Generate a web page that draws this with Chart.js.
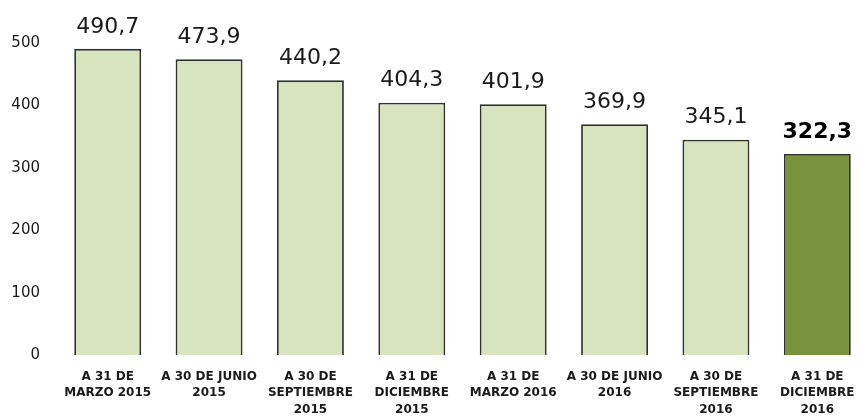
<!DOCTYPE html>
<html lang="es">
<head>
  <meta charset="UTF-8" />
  <title>Evolución</title>
  <script src="https://cdn.jsdelivr.net/npm/chart.js"></script>
  <style>
    html, body { margin: 0; padding: 0; background: #fff; overflow: hidden; }
    #wrap { width: 868px; height: 416px; }
  </style>
</head>
<body>
  <div id="wrap">
    <canvas id="deudaChart" width="868" height="416"></canvas>
  </div>

  <script>
    const labels = [
      ['A 31 DE', 'MARZO 2015'],
      ['A 30 DE JUNIO', '2015'],
      ['A 30 DE', 'SEPTIEMBRE', '2015'],
      ['A 31 DE', 'DICIEMBRE', '2015'],
      ['A 31 DE', 'MARZO 2016'],
      ['A 30 DE JUNIO', '2016'],
      ['A 30 DE', 'SEPTIEMBRE', '2016'],
      ['A 31 DE', 'DICIEMBRE', '2016']
    ];
    const values = [490.7, 473.9, 440.2, 404.3, 401.9, 369.9, 345.1, 322.3];
    const yTicks = [0, 100, 200, 300, 400, 500];

    const lightGreen = '#d7e4bd';
    const darkGreen = '#77933c';
    const colors = values.map((v, i) => i === values.length - 1 ? darkGreen : lightGreen);

    const fmt = v => v.toFixed(1).replace('.', ',');

    // value labels above each bar
    const valueLabels = {
      id: 'valueLabels',
      afterDatasetsDraw(chart) {
        const ctx = chart.ctx;
        const meta = chart.getDatasetMeta(0);
        ctx.save();
        ctx.textAlign = 'center';
        ctx.textBaseline = 'middle';
        meta.data.forEach((bar, i) => {
          const last = i === values.length - 1;
          ctx.fillStyle = last ? '#000' : '#1a1a1a';
          ctx.font = (last ? 'bold ' : '') + '22px "DejaVu Sans"';
          ctx.fillText(fmt(values[i]), bar.x, bar.y - 22);
        });
        ctx.restore();
      }
    };

    new Chart(document.getElementById('deudaChart').getContext('2d'), {
      type: 'bar',
      data: {
        labels: labels,
        datasets: [{
          data: values,
          backgroundColor: colors,
          borderColor: '#303030',
          borderWidth: 1.8,
          barPercentage: 0.66,
          categoryPercentage: 1
        }]
      },
      options: {
        responsive: false,
        animation: false,
        layout: { padding: 0 },
        plugins: {
          legend: { display: false },
          tooltip: { enabled: false }
        },
        scales: {
          x: {
            grid: { display: false, drawTicks: false },
            border: { display: false },
            ticks: {
              color: '#1a1a1a',
              font: { family: 'DejaVu Sans', size: 12, weight: 'bold', lineHeight: 1.4 },
              padding: 13,
              maxRotation: 0,
              autoSkip: false
            },
            afterFit(scale) {
              scale.height = 61;
              scale.paddingLeft = 0;
              scale.paddingRight = 0;
            }
          },
          y: {
            min: 0,
            max: 569,
            grid: { display: false, drawTicks: false },
            border: { display: false },
            ticks: {
              color: '#1a1a1a',
              font: { family: 'DejaVu Sans', size: 15 },
              padding: 17
            },
            afterBuildTicks(scale) {
              scale.ticks = yTicks.map(v => ({ value: v }));
            },
            afterFit(scale) {
              scale.width = 57;
              scale.paddingTop = 0;
              scale.paddingBottom = 0;
            }
          }
        }
      },
      plugins: [valueLabels]
    });
  </script>
</body>
</html>
